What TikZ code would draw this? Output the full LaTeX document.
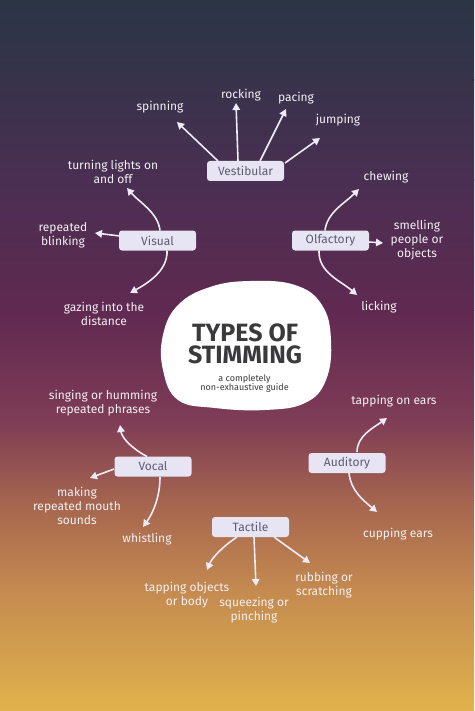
\documentclass[tikz,border=0pt]{standalone}
\usepackage{fontspec}
\setmainfont{Fira Sans}
\usetikzlibrary{arrows.meta}
\definecolor{boxfill}{HTML}{E7E5F3}
\definecolor{boxtext}{HTML}{5D5C72}
\definecolor{lbltext}{HTML}{F3F0F4}
\definecolor{arrowc}{HTML}{EEEBF6}
\definecolor{titletext}{HTML}{3A3A3C}
\definecolor{bga}{HTML}{2B3546}
\definecolor{bgb}{HTML}{37334B}
\definecolor{bgc}{HTML}{4A2F52}
\definecolor{bgd}{HTML}{602951}
\definecolor{bge}{HTML}{7E3C56}
\definecolor{bgf}{HTML}{A4644F}
\definecolor{bgg}{HTML}{C48A50}
\definecolor{bgh}{HTML}{E0B24C}

\begin{document}
\begin{tikzpicture}[x=1pt,y=-1pt,
  cat/.style={fill=boxfill,rounded corners=3pt,minimum width=77pt,minimum height=20pt,
    text=boxtext,font=\fontsize{12}{13}\selectfont},
  lbl/.style={text=lbltext,align=center,inner sep=0pt,font=\fontsize{12}{14}\selectfont},
  arr/.style={draw=arrowc,line width=1.6pt,-{Triangle[length=7pt,width=7.5pt]}}]
  \useasboundingbox (0,0) rectangle (474,711);

  % background
  \shade[top color=bga,bottom color=bgb] (0,0) rectangle (474,80.5);
  \shade[top color=bgb,bottom color=bgc] (0,80) rectangle (474,180.5);
  \shade[top color=bgc,bottom color=bgd] (0,180) rectangle (474,310.5);
  \shade[top color=bgd,bottom color=bge] (0,310) rectangle (474,420.5);
  \shade[top color=bge,bottom color=bgf] (0,420) rectangle (474,500.5);
  \shade[top color=bgf,bottom color=bgg] (0,500) rectangle (474,590.5);
  \shade[top color=bgg,bottom color=bgh] (0,590) rectangle (474,711);

  % centre blob
  \fill[white] plot[smooth cycle,tension=0.7] coordinates {(250,281) (295,285) (322,305)
    (331,340) (326,380) (305,403) (265,410) (215,408) (178,400) (163,370) (163,335)
    (178,305) (210,287)};
  \node[text=titletext,inner sep=0pt,font=\bfseries\fontsize{25}{25}\selectfont] (title1) at (245,333) {TYPES OF};
  \node[text=titletext,inner sep=0pt,font=\bfseries\fontsize{25}{25}\selectfont] (title2) at (245,355) {STIMMING};
  \node[text=titletext,align=center,font=\fontsize{9}{9}\selectfont] (guide) at (244.5,384) {a completely\\non-exhaustive guide};

  % categories
  \node[cat] (vest) at (245.5,171) {Vestibular};
  \node[cat] (vis) at (157.5,240.5) {Visual};
  \node[cat] (olf) at (330.5,240.5) {Olfactory};
  \node[cat] (voc) at (153,466.5) {Vocal};
  \node[cat] (aud) at (347,463) {Auditory};
  \node[cat] (tac) at (250.5,527) {Tactile};

  % labels
  \node[lbl] (spin) at (160,107) {spinning};
  \node[lbl] (rock) at (241,95) {rocking};
  \node[lbl] (pace) at (296,98) {pacing};
  \node[lbl] (jump) at (338,120) {jumping};
  \node[lbl] (lights) at (113,171.5) {turning lights on\\and off};
  \node[lbl] (blink) at (63,235) {repeated\\blinking};
  \node[lbl] (gaze) at (104,314) {gazing into the\\distance};
  \node[lbl] (chew) at (386,177) {chewing};
  \node[lbl] (smell) at (417,240) {smelling\\people or\\objects};
  \node[lbl] (lick) at (379,307) {licking};
  \node[lbl] (sing) at (103,403) {singing or humming\\repeated phrases};
  \node[lbl] (mouth) at (77,506) {making\\repeated mouth\\sounds};
  \node[lbl] (whistle) at (147,539) {whistling};
  \node[lbl] (tapears) at (394,401) {tapping on ears};
  \node[lbl] (cup) at (398,534) {cupping ears};
  \node[lbl] (tapobj) at (187,595.5) {tapping objects\\or body};
  \node[lbl] (squeeze) at (254,610) {squeezing or\\pinching};
  \node[lbl] (rub) at (324,585) {rubbing or\\scratching};

  % arrows
  \draw[arr] ([shift={(-27.5,-10)}]vest.center) -- ([shift={(17,15)}]spin.center);
  \draw[arr] ([shift={(-7.5,-10)}]vest.center) -- ([shift={(-5,8)}]rock.center);
  \draw[arr] ([shift={(14.5,-10)}]vest.center) -- ([shift={(-10,11)}]pace.center);
  \draw[arr] ([shift={(39.5,-8)}]vest.center) -- ([shift={(-18,18)}]jump.center);

  \draw[arr] ([shift={(2.5,-10)}]vis.center) .. controls +(-2,-18) and +(12,14) .. ([shift={(14,16.5)}]lights.center);
  \draw[arr] ([shift={(-37.5,-4.5)}]vis.center) -- ([shift={(32,-2)}]blink.center);
  \draw[arr] ([shift={(9.5,10)}]vis.center) .. controls +(1,20) and +(18,-10) .. ([shift={(26,-21)}]gaze.center);

  \draw[arr] ([shift={(-5.5,-10)}]olf.center) .. controls +(2,-18) and +(-14,14) .. ([shift={(-27,12)}]chew.center);
  \draw[arr] ([shift={(38.5,1.5)}]olf.center) -- ([shift={(-34,3)}]smell.center);
  \draw[arr] ([shift={(-11.5,10)}]olf.center) .. controls +(-1,22) and +(-16,-14) .. ([shift={(-22,-12)}]lick.center);

  \draw[arr] ([shift={(-6,-10)}]voc.center) .. controls +(-12,-6) and +(2,14) .. ([shift={(17,22)}]sing.center);
  \draw[arr] ([shift={(-39,2.5)}]voc.center) -- ([shift={(13,-28)}]mouth.center);
  \draw[arr] ([shift={(7,10.5)}]voc.center) .. controls +(0,20) and +(10,-14) .. ([shift={(-4,-12)}]whistle.center);

  \draw[arr] ([shift={(10,-11)}]aud.center) .. controls +(0,-16) and +(-14,10) .. ([shift={(-7,17)}]tapears.center);
  \draw[arr] ([shift={(2,10)}]aud.center) .. controls +(2,18) and +(-14,-12) .. ([shift={(-21,-22)}]cup.center);

  \draw[arr] ([shift={(-13.5,10)}]tac.center) .. controls +(-15,10) and +(5,-12) .. ([shift={(20,-25.5)}]tapobj.center);
  \draw[arr] ([shift={(3.5,10)}]tac.center) -- ([shift={(2,-24)}]squeeze.center);
  \draw[arr] ([shift={(23.5,10)}]tac.center) -- ([shift={(-14,-22)}]rub.center);
\end{tikzpicture}
\end{document}
